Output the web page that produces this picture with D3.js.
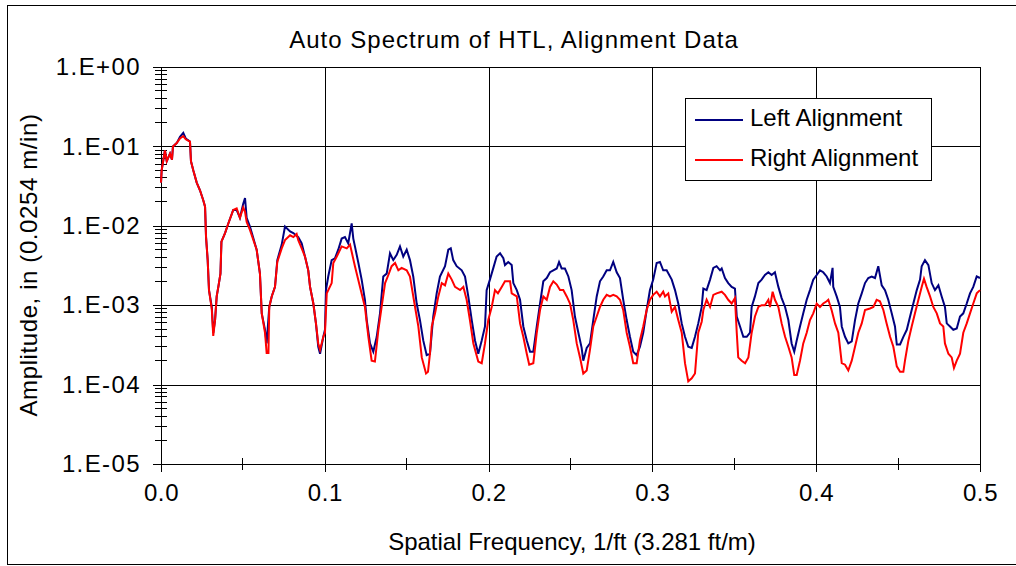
<!DOCTYPE html>
<html>
<head>
<meta charset="utf-8">
<script src="https://cdn.jsdelivr.net/npm/d3@7"></script>
<style>
  html, body { margin: 0; padding: 0; background: #fff; }
  svg { display: block; font-family: "Liberation Sans", Arial, sans-serif; }
</style>
</head>
<body>
<svg id="chart" width="1016" height="566"></svg>
<script>
// ---------------- DATA ----------------
const chartTitle = "Auto Spectrum of HTL, Alignment Data";
const xTitle = "Spatial Frequency, 1/ft (3.281 ft/m)";
const yTitle = "Amplitude, in (0.0254 m/in)";
const seriesNames = ["Left Alignment", "Right Alignment"];

const xTickValues = [0, 0.1, 0.2, 0.3, 0.4, 0.5];
const xTickLabels = ["0.0", "0.1", "0.2", "0.3", "0.4", "0.5"];
const xMinorTicks = [0.05, 0.15, 0.25, 0.35, 0.45];
const yTickValues = [1, 1e-1, 1e-2, 1e-3, 1e-4, 1e-5];
const yTickLabels = ["1.E+00", "1.E-01", "1.E-02", "1.E-03", "1.E-04", "1.E-05"];

const freqLeft = [
 0.0000,0.0004,0.0024,0.0035,0.0055,0.0067,0.0073,0.0096,0.0116,0.0136,0.0151,0.0177,0.0183,0.0197,0.0218,0.0238,0.0258,0.0269,0.0275,0.0285,
 0.0293,0.0310,0.0319,0.0330,0.0340,0.0350,0.0363,0.0369,0.0391,0.0411,0.0441,0.0462,0.0482,0.0502,0.0513,0.0523,0.0543,0.0584,0.0604,0.0615,
 0.0635,0.0645,0.0661,0.0676,0.0696,0.0710,0.0737,0.0757,0.0788,0.0808,0.0838,0.0859,0.0879,0.0899,0.0910,0.0930,0.0946,0.0960,0.0971,0.0991,
 0.1001,0.1007,0.1021,0.1042,0.1062,0.1082,0.1103,0.1123,0.1143,0.1164,0.1174,0.1184,0.1205,0.1225,0.1245,0.1256,0.1276,0.1296,0.1317,0.1337,
 0.1357,0.1378,0.1398,0.1418,0.1439,0.1459,0.1479,0.1500,0.1520,0.1540,0.1561,0.1581,0.1601,0.1622,0.1642,0.1662,0.1683,0.1703,0.1734,0.1754,
 0.1769,0.1784,0.1805,0.1836,0.1856,0.1876,0.1897,0.1917,0.1937,0.1958,0.1978,0.1988,0.2008,0.2029,0.2049,0.2070,0.2090,0.2100,0.2120,0.2141,
 0.2151,0.2172,0.2192,0.2212,0.2233,0.2253,0.2273,0.2294,0.2314,0.2334,0.2355,0.2375,0.2395,0.2416,0.2430,0.2446,0.2466,0.2487,0.2507,0.2527,
 0.2548,0.2568,0.2578,0.2599,0.2619,0.2639,0.2660,0.2680,0.2700,0.2721,0.2741,0.2761,0.2782,0.2802,0.2822,0.2843,0.2863,0.2883,0.2904,0.2924,
 0.2944,0.2965,0.2985,0.3005,0.3026,0.3046,0.3066,0.3087,0.3118,0.3138,0.3158,0.3179,0.3199,0.3219,0.3240,0.3260,0.3280,0.3301,0.3311,0.3331,
 0.3352,0.3372,0.3392,0.3413,0.3423,0.3443,0.3463,0.3484,0.3504,0.3515,0.3535,0.3555,0.3576,0.3596,0.3606,0.3626,0.3647,0.3667,0.3687,0.3708,
 0.3728,0.3748,0.3769,0.3789,0.3810,0.3830,0.3850,0.3866,0.3881,0.3901,0.3921,0.3942,0.3962,0.3982,0.4003,0.4023,0.4043,0.4064,0.4084,0.4100,
 0.4104,0.4125,0.4145,0.4156,0.4176,0.4196,0.4217,0.4237,0.4257,0.4278,0.4298,0.4318,0.4339,0.4359,0.4379,0.4400,0.4420,0.4440,0.4461,0.4481,
 0.4492,0.4512,0.4532,0.4553,0.4573,0.4593,0.4614,0.4634,0.4644,0.4664,0.4685,0.4705,0.4725,0.4746,0.4766,0.4786,0.4797,0.4817,0.4837,0.4858,
 0.4878,0.4898,0.4919,0.4939,0.4959,0.4980,0.5000
];
const ampLeft = [
 3.5e-2,5.0e-2,8.9e-2,6.5e-2,8.1e-2,6.8e-2,1.0e-1,1.1e-1,1.32e-1,1.48e-1,1.26e-1,1.15e-1,6.5e-2,5.0e-2,3.5e-2,2.8e-2,2.1e-2,1.74e-2,7.2e-3,3.7e-3,
 1.55e-3,9.5e-4,4.5e-4,6.5e-4,1.29e-3,1.7e-3,2.5e-3,6.3e-3,8.1e-3,1.07e-2,1.58e-2,1.58e-2,1.26e-2,1.9e-2,2.24e-2,1.26e-2,9.8e-3,5.0e-3,2.5e-3,7.9e-4,
 4.9e-4,3.3e-4,9.5e-4,1.29e-3,1.7e-3,3.7e-3,5.8e-3,9.8e-3,8.5e-3,8.1e-3,7.2e-3,6.0e-3,4.1e-3,2.75e-3,1.7e-3,1.05e-3,5.9e-4,3.0e-4,2.45e-4,4.0e-4,
 4.9e-4,1.55e-3,2.3e-3,3.7e-3,3.9e-3,5.0e-3,6.9e-3,7.2e-3,6.0e-3,1.07e-2,6.9e-3,5.5e-3,3.4e-3,2.1e-3,1.17e-3,6.5e-4,3.3e-4,2.6e-4,4.0e-4,7.9e-4,
 2.3e-3,2.5e-3,4.5e-3,3.7e-3,4.3e-3,5.5e-3,4.1e-3,5.0e-3,3.7e-3,2.3e-3,1.05e-3,6.5e-4,3.6e-4,2.35e-4,2.45e-4,7.2e-4,1.41e-3,2.3e-3,3.1e-3,5.0e-3,
 5.2e-3,3.7e-3,3.1e-3,2.75e-3,2.3e-3,1.29e-3,6.5e-4,3.6e-4,2.45e-4,3.6e-4,5.4e-4,1.55e-3,2.1e-3,2.95e-3,4.1e-3,4.5e-3,3.9e-3,3.2e-3,3.5e-3,3.2e-3,
 1.9e-3,1.55e-3,1.17e-3,5.4e-4,3.6e-4,2.6e-4,2.6e-4,5.4e-4,1.05e-3,2.0e-3,2.2e-3,2.6e-3,2.75e-3,2.9e-3,3.5e-3,2.9e-3,2.9e-3,2.3e-3,1.55e-3,7.2e-4,
 4.5e-4,2.9e-4,2.0e-4,2.9e-4,3.3e-4,6.5e-4,1.29e-3,2.0e-3,2.3e-3,2.75e-3,2.75e-3,3.5e-3,2.6e-3,2.2e-3,1.17e-3,6.5e-4,4.0e-4,2.6e-4,2.35e-4,3.0e-4,
 4.5e-4,8.7e-4,1.55e-3,2.1e-3,3.4e-3,3.5e-3,2.75e-3,2.75e-3,2.1e-3,1.55e-3,1.05e-3,5.9e-4,4.0e-4,3.0e-4,2.9e-4,4.0e-4,5.9e-4,9.5e-4,1.62e-3,1.55e-3,
 2.1e-3,2.95e-3,3.1e-3,2.75e-3,2.9e-3,2.2e-3,1.9e-3,1.7e-3,1.62e-3,7.2e-4,5.4e-4,4.0e-4,4.0e-4,4.5e-4,9.5e-4,1.29e-3,1.9e-3,2.1e-3,2.4e-3,2.6e-3,
 2.4e-3,2.6e-3,1.7e-3,1.23e-3,9.5e-4,6.5e-4,3.3e-4,2.6e-4,3.6e-4,5.4e-4,7.9e-4,1.17e-3,1.55e-3,2.1e-3,2.4e-3,2.75e-3,2.6e-3,2.3e-3,1.9e-3,2.95e-3,
 1.7e-3,1.29e-3,9.5e-4,5.4e-4,4.0e-4,3.3e-4,3.5e-4,6.5e-4,1.05e-3,1.41e-3,1.9e-3,2.2e-3,2.3e-3,2.2e-3,3.1e-3,1.78e-3,1.55e-3,1.17e-3,7.9e-4,5.4e-4,
 3.2e-4,3.2e-4,4.0e-4,4.9e-4,7.2e-4,1.05e-3,1.55e-3,2.1e-3,3.1e-3,3.7e-3,3.2e-3,1.9e-3,1.55e-3,1.78e-3,1.29e-3,9.5e-4,5.9e-4,5.4e-4,4.9e-4,5.1e-4,
 7.2e-4,7.9e-4,1.05e-3,1.41e-3,1.7e-3,2.3e-3,2.2e-3
];

const freqRight = [
 0.0000,0.0004,0.0024,0.0035,0.0055,0.0067,0.0073,0.0096,0.0116,0.0136,0.0151,0.0177,0.0183,0.0197,0.0218,0.0238,0.0258,0.0269,0.0275,0.0285,
 0.0293,0.0310,0.0319,0.0330,0.0340,0.0350,0.0363,0.0369,0.0391,0.0411,0.0441,0.0462,0.0482,0.0502,0.0513,0.0523,0.0543,0.0584,0.0604,0.0615,
 0.0635,0.0645,0.0656,0.0661,0.0676,0.0696,0.0710,0.0737,0.0757,0.0788,0.0808,0.0828,0.0838,0.0859,0.0879,0.0899,0.0910,0.0930,0.0946,0.0960,
 0.0971,0.0991,0.1001,0.1012,0.1042,0.1052,0.1073,0.1103,0.1134,0.1154,0.1164,0.1184,0.1215,0.1245,0.1266,0.1286,0.1306,0.1327,0.1347,0.1368,
 0.1388,0.1408,0.1429,0.1449,0.1469,0.1500,0.1520,0.1551,0.1571,0.1592,0.1618,0.1630,0.1642,0.1653,0.1673,0.1693,0.1714,0.1734,0.1754,0.1775,
 0.1795,0.1826,0.1846,0.1866,0.1886,0.1907,0.1937,0.1958,0.1978,0.1998,0.2019,0.2039,0.2057,0.2080,0.2100,0.2131,0.2141,0.2172,0.2192,0.2212,
 0.2233,0.2248,0.2273,0.2294,0.2314,0.2334,0.2355,0.2375,0.2395,0.2416,0.2436,0.2456,0.2477,0.2497,0.2517,0.2538,0.2558,0.2578,0.2599,0.2619,
 0.2639,0.2660,0.2680,0.2700,0.2721,0.2741,0.2761,0.2782,0.2802,0.2822,0.2843,0.2863,0.2883,0.2904,0.2924,0.2944,0.2965,0.2985,0.3005,0.3026,
 0.3046,0.3066,0.3077,0.3097,0.3118,0.3138,0.3158,0.3179,0.3199,0.3219,0.3240,0.3260,0.3280,0.3301,0.3311,0.3331,0.3352,0.3372,0.3392,0.3423,
 0.3443,0.3463,0.3484,0.3504,0.3515,0.3524,0.3545,0.3566,0.3586,0.3606,0.3626,0.3647,0.3667,0.3687,0.3708,0.3718,0.3734,0.3748,0.3769,0.3789,
 0.3810,0.3830,0.3850,0.3866,0.3881,0.3901,0.3921,0.3942,0.3962,0.3982,0.4003,0.4023,0.4043,0.4064,0.4074,0.4094,0.4115,0.4135,0.4156,0.4176,
 0.4196,0.4217,0.4237,0.4257,0.4278,0.4298,0.4328,0.4349,0.4369,0.4389,0.4410,0.4430,0.4451,0.4471,0.4492,0.4512,0.4532,0.4542,0.4563,0.4583,
 0.4603,0.4624,0.4644,0.4658,0.4674,0.4695,0.4715,0.4736,0.4756,0.4776,0.4786,0.4807,0.4827,0.4841,0.4858,0.4878,0.4898,0.4919,0.4939,0.4959,
 0.4980,0.5000
];
const ampRight = [
 3.5e-2,5.0e-2,8.9e-2,6.5e-2,8.1e-2,6.8e-2,1.0e-1,1.1e-1,1.26e-1,1.35e-1,1.23e-1,1.15e-1,6.5e-2,5.0e-2,3.5e-2,2.8e-2,2.1e-2,1.74e-2,7.2e-3,3.7e-3,
 1.55e-3,8.9e-4,4.1e-4,6.5e-4,1.29e-3,1.7e-3,2.5e-3,6.3e-3,8.1e-3,1.07e-2,1.58e-2,1.66e-2,1.26e-2,1.7e-2,1.5e-2,1.12e-2,8.9e-3,5.0e-3,2.5e-3,7.9e-4,
 4.5e-4,2.5e-4,2.5e-4,9.5e-4,1.29e-3,1.7e-3,3.5e-3,5.2e-3,6.6e-3,7.6e-3,7.2e-3,7.9e-3,6.6e-3,5.2e-3,4.1e-3,2.75e-3,1.7e-3,1.05e-3,5.9e-4,3.3e-4,
 2.75e-4,4.0e-4,4.5e-4,1.41e-3,1.9e-3,3.4e-3,4.1e-3,5.5e-3,5.2e-3,5.8e-3,4.7e-3,3.1e-3,1.7e-3,9.5e-4,4.0e-4,2.0e-4,1.95e-4,4.9e-4,9.5e-4,1.9e-3,
 2.4e-3,3.1e-3,3.4e-3,2.75e-3,2.95e-3,2.75e-3,2.3e-3,9.5e-4,5.4e-4,2.2e-4,1.38e-4,1.45e-4,2.45e-4,5.4e-4,7.9e-4,1.29e-3,1.9e-3,1.78e-3,2.5e-3,2.1e-3,
 1.7e-3,1.55e-3,1.7e-3,1.17e-3,6.5e-4,3.3e-4,1.95e-4,1.86e-4,3.3e-4,6.5e-4,9.5e-4,1.55e-3,1.41e-3,1.7e-3,2.0e-3,2.0e-3,1.41e-3,1.29e-3,5.9e-4,4.0e-4,
 2.45e-4,1.78e-4,1.86e-4,4.5e-4,8.7e-4,1.29e-3,1.17e-3,1.7e-3,2.0e-3,1.82e-3,1.55e-3,1.55e-3,1.29e-3,1.05e-3,6.5e-4,3.3e-4,2.2e-4,1.38e-4,1.51e-4,2.75e-4,
 5.4e-4,7.2e-4,9.5e-4,1.17e-3,1.35e-3,1.29e-3,1.35e-3,1.29e-3,1.17e-3,8.7e-4,4.5e-4,3.0e-4,1.86e-4,1.86e-4,3.6e-4,5.4e-4,8.7e-4,1.17e-3,1.35e-3,1.48e-3,
 1.29e-3,1.48e-3,1.29e-3,1.41e-3,8.3e-4,9.5e-4,6.5e-4,4.5e-4,1.86e-4,1.1e-4,1.2e-4,1.38e-4,4.5e-4,6.2e-4,8.7e-4,1.17e-3,9.5e-4,1.35e-3,1.41e-3,1.48e-3,
 1.35e-3,1.17e-3,1.05e-3,1.23e-3,4.5e-4,2.2e-4,2.0e-4,1.86e-4,2.2e-4,4.5e-4,7.2e-4,9.5e-4,1.0e-3,1.0e-3,1.17e-3,9.5e-4,1.48e-3,1.17e-3,9.5e-4,5.9e-4,
 4.0e-4,3.0e-4,2.2e-4,1.32e-4,1.32e-4,2.0e-4,3.3e-4,4.5e-4,6.5e-4,7.9e-4,1.05e-3,9.5e-4,1.05e-3,1.12e-3,1.17e-3,8.7e-4,5.9e-4,4.5e-4,1.86e-4,1.78e-4,
 1.51e-4,2.0e-4,3.0e-4,4.5e-4,5.9e-4,8.7e-4,9.1e-4,9.5e-4,1.17e-3,1.12e-3,8.7e-4,5.9e-4,4.0e-4,3.0e-4,1.7e-4,1.45e-4,1.45e-4,2.0e-4,3.6e-4,5.4e-4,
 7.9e-4,1.17e-3,1.7e-3,2.15e-3,1.7e-3,1.29e-3,9.5e-4,7.9e-4,5.9e-4,5.4e-4,3.3e-4,2.45e-4,2.2e-4,1.62e-4,2.0e-4,2.45e-4,4.5e-4,5.9e-4,7.9e-4,1.05e-3,
 1.41e-3,1.55e-3
];
const seriesColors = ["#000080", "#ff0000"];

// ---------------- LAYOUT ----------------
const svg = d3.select("#chart");
const plot = { left: 161, right: 980, top: 67, bottom: 464 };
const FONT = "Liberation Sans, Arial, sans-serif";

svg.append("rect").attr("x", 7.5).attr("y", 5.5).attr("width", 1010).attr("height", 559)
  .attr("fill", "#fff").attr("stroke", "#000").attr("stroke-width", 1);

const x = d3.scaleLinear().domain([0, 0.5]).range([plot.left, plot.right]);
const y = d3.scaleLog().domain([1e-5, 1]).range([plot.bottom, plot.top]);

// gridlines
const grid = svg.append("g").attr("shape-rendering", "crispEdges");
grid.append("g").attr("transform", `translate(0,${plot.bottom})`)
  .call(d3.axisBottom(x).tickValues(xTickValues).tickSize(-(plot.bottom - plot.top)).tickFormat(""))
  .call(g => g.select(".domain").remove())
  .selectAll("line").attr("stroke", "#000");
grid.append("g").attr("transform", `translate(${plot.left},0)`)
  .call(d3.axisLeft(y).tickValues(yTickValues).tickSize(-(plot.right - plot.left)).tickFormat(""))
  .call(g => g.select(".domain").remove())
  .selectAll("line").attr("stroke", "#000");

// plot border
svg.append("rect").attr("x", plot.left).attr("y", plot.top)
  .attr("width", plot.right - plot.left).attr("height", plot.bottom - plot.top)
  .attr("fill", "none").attr("stroke", "#000").attr("shape-rendering", "crispEdges");

// minor ticks (crossing the axes)
const yMinor = [];
for (let e = -5; e < 0; e++) for (let m = 2; m <= 9; m++) yMinor.push(m * Math.pow(10, e));
const ticksG = svg.append("g").attr("shape-rendering", "crispEdges").attr("stroke", "#000");
ticksG.selectAll("line.ym").data(yMinor).join("line")
  .attr("x1", plot.left - 6).attr("x2", plot.left + 6)
  .attr("y1", d => y(d)).attr("y2", d => y(d));
ticksG.selectAll("line.xm").data(xMinorTicks).join("line")
  .attr("x1", d => x(d)).attr("x2", d => x(d))
  .attr("y1", plot.bottom - 6).attr("y2", plot.bottom + 6);

// major axes
const fontSize = 24;
const yAxis = svg.append("g").attr("transform", `translate(${plot.left},0)`)
  .call(d3.axisLeft(y).tickValues(yTickValues).tickSize(8).tickPadding(12)
    .tickFormat((d, i) => yTickLabels[i]));
const xAxis = svg.append("g").attr("transform", `translate(0,${plot.bottom})`)
  .call(d3.axisBottom(x).tickValues(xTickValues).tickSize(8).tickPadding(12)
    .tickFormat((d, i) => xTickLabels[i]));
[yAxis, xAxis].forEach(g => {
  g.select(".domain").remove();
  g.selectAll("line").attr("stroke", "#000").attr("shape-rendering", "crispEdges");
  g.selectAll("text").attr("fill", "#000").attr("font-size", fontSize).attr("font-family", FONT);
});
yAxis.selectAll("text").attr("letter-spacing", 1.4);
xAxis.selectAll("text").attr("letter-spacing", 0.6);

// series
const line = d3.line().x(d => x(d[0])).y(d => y(d[1]));
const seriesData = [
  d3.zip(freqLeft, ampLeft),
  d3.zip(freqRight, ampRight)
];
svg.append("g").selectAll("path").data(seriesData).join("path")
  .attr("d", line).attr("fill", "none")
  .attr("stroke", (d, i) => seriesColors[i]).attr("stroke-width", 2)
  .attr("stroke-linejoin", "miter");

// titles
svg.append("text").attr("x", 514).attr("y", 48).attr("text-anchor", "middle")
  .attr("font-size", fontSize).attr("letter-spacing", 1.0).text(chartTitle);
svg.append("text").attr("x", 572).attr("y", 550).attr("text-anchor", "middle")
  .attr("font-size", fontSize).attr("letter-spacing", 0).text(xTitle);
svg.append("text").attr("transform", "translate(37,265) rotate(-90)").attr("text-anchor", "middle")
  .attr("font-size", fontSize).attr("letter-spacing", 0.6).text(yTitle);

// legend
const leg = svg.append("g");
leg.append("rect").attr("x", 685.5).attr("y", 98.5).attr("width", 246).attr("height", 82)
  .attr("fill", "#fff").attr("stroke", "#000");
const legRows = leg.selectAll("g.row").data(seriesNames).join("g")
  .attr("transform", (d, i) => `translate(0,${120 + i * 40})`);
legRows.append("line").attr("x1", 695).attr("x2", 743).attr("y1", 0).attr("y2", 0)
  .attr("stroke", (d, i) => seriesColors[i]).attr("stroke-width", 2);
legRows.append("text").attr("x", 750).attr("y", 6).attr("font-size", fontSize)
  .attr("letter-spacing", 0).text(d => d);
</script>
</body>
</html>
